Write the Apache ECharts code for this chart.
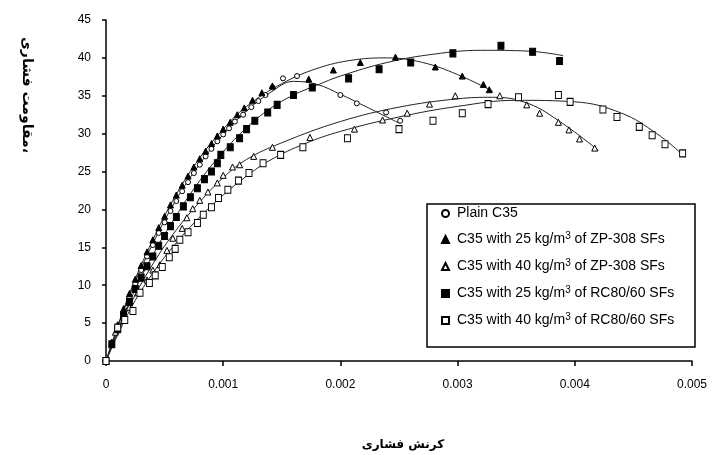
<!DOCTYPE html>
<html>
<head>
<meta charset="utf-8">
<style>
  html, body { margin: 0; padding: 0; background: #fff; }
  #chart { width: 715px; height: 455px; }
</style>
<script src="https://cdn.jsdelivr.net/npm/echarts@6/dist/echarts.min.js"></script>
</head>
<body>
<div id="chart"></div>
<script>
// axis ticks
const xTickLabels = ['0', '0.001', '0.002', '0.003', '0.004', '0.005']
const yTickLabels = ['0', '5', '10', '15', '20', '25', '30', '35', '40', '45']

const seriesNames = [
  'Plain C35',
  'C35 with 25 kg/m3 of ZP-308 SFs',
  'C35 with 40 kg/m3 of ZP-308 SFs',
  'C35 with 25 kg/m3 of RC80/60 SFs',
  'C35 with 40 kg/m3 of RC80/60 SFs'
]

// measured points [strain, stress]
const plainPoints = [
  [0, 0], [0.00005, 2.3], [0.0001, 4.5], [0.00015, 6.5], [0.0002, 8.4], [0.00025, 10.2],
  [0.0003, 12.0], [0.00035, 13.8], [0.0004, 15.3], [0.00045, 16.9], [0.0005, 18.3],
  [0.00055, 19.8], [0.0006, 21.1], [0.00065, 22.4], [0.0007, 23.6], [0.00075, 24.8],
  [0.0008, 25.9], [0.00085, 27.0], [0.0009, 28.0], [0.00095, 29.0], [0.001, 29.9],
  [0.00105, 30.7], [0.0011, 31.6], [0.00117, 32.5], [0.00124, 33.5], [0.0013, 34.3],
  [0.00136, 35.1], [0.00142, 36.1], [0.00151, 37.3], [0.00163, 37.6],
  [0.002, 35.1], [0.00214, 34.0], [0.00239, 32.8], [0.00251, 31.7]
]
const zp25Points = [
  [0, 0], [0.00005, 2.5], [0.0001, 4.8], [0.00015, 6.9], [0.0002, 8.9], [0.00025, 10.8],
  [0.0003, 12.6], [0.00035, 14.4], [0.0004, 16.0], [0.00045, 17.6], [0.0005, 19.1],
  [0.00055, 20.6], [0.0006, 21.9], [0.00065, 23.2], [0.0007, 24.4], [0.00075, 25.6],
  [0.0008, 26.7], [0.00085, 27.7], [0.0009, 28.7], [0.00095, 29.7], [0.001, 30.6],
  [0.00106, 31.5], [0.00112, 32.5], [0.00118, 33.4], [0.00125, 34.4], [0.00133, 35.4],
  [0.00142, 36.3], [0.00173, 37.2], [0.00194, 38.4], [0.00217, 39.4], [0.00247, 40.1],
  [0.00281, 38.8], [0.00304, 37.6], [0.00322, 36.5], [0.00327, 35.8]
]
const zp40Points = [
  [0, 0], [0.00008, 3.8], [0.00015, 5.8], [0.0002, 7.1], [0.00027, 9.0], [0.00035, 10.7],
  [0.0004, 12.0], [0.00046, 12.7], [0.00052, 14.6], [0.00057, 16.2], [0.00065, 17.5],
  [0.00069, 18.9], [0.00074, 20.1], [0.0008, 21.2], [0.00087, 22.3], [0.00095, 23.5],
  [0.001, 24.5], [0.00108, 25.6], [0.00114, 25.9], [0.00126, 27.0], [0.00142, 28.2],
  [0.00174, 29.5], [0.00212, 30.6], [0.00236, 31.8], [0.00257, 32.7], [0.00276, 33.9],
  [0.00298, 35.0], [0.00336, 35.0], [0.00359, 33.8], [0.0037, 32.7], [0.00386, 31.5],
  [0.00395, 30.5], [0.00404, 29.3], [0.00417, 28.1]
]
const rc25Points = [
  [0, 0], [0.00005, 2.2], [0.0001, 4.2], [0.00015, 6.0], [0.0002, 7.8], [0.00025, 9.5],
  [0.0003, 11.0], [0.00035, 12.5], [0.0004, 13.8], [0.00045, 15.2], [0.0005, 16.5],
  [0.00055, 17.8], [0.0006, 19.0], [0.00066, 20.4], [0.00072, 21.6], [0.00078, 22.8],
  [0.00084, 24.0], [0.0009, 25.0], [0.00095, 26.1], [0.00098, 27.2], [0.00106, 28.2],
  [0.00114, 29.4], [0.0012, 30.6], [0.00127, 31.7], [0.00138, 32.8], [0.00146, 33.8],
  [0.0016, 35.1], [0.00176, 36.1], [0.00207, 37.3], [0.00233, 38.5], [0.0026, 39.4],
  [0.00296, 40.6], [0.00337, 41.6], [0.00364, 40.8], [0.00387, 39.6]
]
const rc40Points = [
  [0, 0], [0.0001, 4.4], [0.00016, 5.4], [0.00023, 6.6], [0.00029, 9.0], [0.00037, 10.3],
  [0.00042, 11.3], [0.00048, 12.4], [0.00054, 13.7], [0.00059, 14.8], [0.00063, 16.0],
  [0.0007, 17.0], [0.00078, 18.2], [0.00083, 19.3], [0.0009, 20.3], [0.00096, 21.5],
  [0.00104, 22.6], [0.00113, 23.8], [0.00122, 24.8], [0.00134, 26.1], [0.00149, 27.2],
  [0.00168, 28.2], [0.00206, 29.4], [0.0025, 30.6], [0.00279, 31.7], [0.00304, 32.7],
  [0.00326, 33.9], [0.00352, 34.8], [0.00386, 35.1], [0.00396, 34.2], [0.00424, 33.2],
  [0.00436, 32.2], [0.00455, 30.9], [0.00466, 29.8], [0.00477, 28.6], [0.00492, 27.4]
]

// fitted curves
const plainCurve = [
  [0, 0], [0.0002, 8.6], [0.0004, 15.5], [0.0006, 21.3], [0.0008, 26.0], [0.001, 29.9],
  [0.0012, 33.0], [0.0014, 35.4], [0.0016, 36.9], [0.0018, 36.5], [0.002, 35.2],
  [0.0022, 33.7], [0.0025, 31.4]
]
const zp25Curve = [
  [0, 0], [0.0002, 8.9], [0.0004, 16.0], [0.0006, 22.0], [0.0008, 26.8], [0.001, 30.6],
  [0.0012, 33.6], [0.0015, 36.6], [0.0018, 38.6], [0.0021, 39.7], [0.0024, 40.0],
  [0.0027, 39.4], [0.003, 37.8], [0.0033, 35.6]
]
const zp40Curve = [
  [0, 0], [0.0002, 7.2], [0.0004, 12.8], [0.0006, 17.3], [0.0008, 21.0], [0.001, 24.2],
  [0.0012, 26.6], [0.0015, 28.8], [0.002, 31.6], [0.0025, 33.5], [0.003, 34.6],
  [0.0033, 34.8], [0.0036, 34.0], [0.0039, 31.3], [0.0042, 27.8]
]
const rc25Curve = [
  [0, 0], [0.0002, 7.8], [0.0004, 14.0], [0.0006, 19.2], [0.0008, 23.8], [0.001, 27.6],
  [0.0012, 30.8], [0.0014, 33.3], [0.0016, 35.1], [0.0018, 36.4], [0.002, 37.6],
  [0.0024, 39.4], [0.0028, 40.5], [0.0032, 41.0], [0.0036, 40.9], [0.0039, 40.3]
]
const rc40Curve = [
  [0, 0], [0.0002, 6.6], [0.0004, 11.6], [0.0006, 15.6], [0.0008, 19.0], [0.001, 21.9],
  [0.0012, 24.4], [0.0014, 26.5], [0.0017, 28.7], [0.002, 30.3], [0.0025, 32.2],
  [0.003, 33.6], [0.0035, 34.4], [0.004, 34.2], [0.0044, 32.7], [0.0047, 30.0],
  [0.0049, 27.5]
]

const pointSets = [plainPoints, zp25Points, zp40Points, rc25Points, rc40Points]
const curveSets = [plainCurve, zp25Curve, zp40Curve, rc25Curve, rc40Curve]
const markers = [
  { symbol: 'circle', size: 5, fill: '#fff' },
  { symbol: 'triangle', size: 6, fill: '#000' },
  { symbol: 'triangle', size: 6, fill: '#fff' },
  { symbol: 'rect', size: [6, 7], fill: '#000' },
  { symbol: 'rect', size: [6, 7], fill: '#fff' }
]

const chart = echarts.init(document.getElementById('chart'), null, { renderer: 'canvas' })

const fitSeries = curveSets.map((data, i) => ({
  name: 'fit' + i,
  type: 'line',
  data: data,
  smooth: 0.4,
  showSymbol: false,
  silent: true,
  z: 1,
  lineStyle: { color: '#222', width: 1 }
}))

const pointSeries = pointSets.map((data, i) => ({
  name: seriesNames[i],
  type: 'scatter',
  data: data,
  symbol: markers[i].symbol,
  symbolSize: markers[i].size,
  z: 3,
  itemStyle: {
    color: markers[i].fill,
    borderColor: '#000',
    borderWidth: 1,
    opacity: 1
  }
}))

chart.setOption({
  backgroundColor: '#fff',
  animation: false,
  textStyle: { fontFamily: 'Liberation Sans, Arial, sans-serif' },
  grid: { left: 106, right: 23, top: 20, bottom: 94 },
  xAxis: {
    type: 'value',
    min: 0,
    max: 0.005,
    interval: 0.001,
    axisLine: { onZero: false, lineStyle: { color: '#000', width: 1.5 } },
    axisTick: { show: true, length: 5, lineStyle: { color: '#000', width: 1.5 } },
    splitLine: { show: false },
    axisLabel: {
      margin: 18,
      color: '#000',
      fontSize: 12,
      formatter: (v, idx) => xTickLabels[idx]
    }
  },
  yAxis: {
    type: 'value',
    min: 0,
    max: 45,
    interval: 5,
    axisLine: { show: true, lineStyle: { color: '#000', width: 1.5 } },
    axisTick: { show: true, length: 4, lineStyle: { color: '#000', width: 1.5 } },
    splitLine: { show: false },
    axisLabel: {
      margin: 15,
      color: '#000',
      fontSize: 12,
      formatter: (v, idx) => yTickLabels[idx]
    }
  },
  legend: {
    data: seriesNames,
    orient: 'vertical',
    left: 441,
    top: 206,
    padding: 0,
    itemGap: 10,
    itemWidth: 7,
    itemHeight: 7,
    selectedMode: false,
    formatter: name => name.replace('kg/m3', 'kg/m{sup|3}'),
    textStyle: {
      color: '#000',
      fontSize: 14,
      lineHeight: 15,
      padding: [0, 0, 0, 3],
      rich: {
        sup: { fontSize: 10, lineHeight: 15, padding: [0, 0, 7, 0] }
      }
    }
  },
  graphic: [
    {
      type: 'rect',
      shape: { x: 427, y: 204, width: 268, height: 143 },
      style: { fill: null, stroke: '#000', lineWidth: 1.5 },
      z: 0
    },
    {
      type: 'text',
      x: 27,
      y: 95,
      rotation: -Math.PI / 2,
      style: {
        text: 'مقاومت فشاری،',
        font: 'bold 14px "DejaVu Sans"',
        fill: '#000',
        textAlign: 'center',
        textVerticalAlign: 'middle'
      }
    },
    {
      type: 'text',
      x: 403,
      y: 445,
      style: {
        text: 'کرنش فشاری',
        font: 'bold 12px "DejaVu Sans"',
        fill: '#000',
        textAlign: 'center',
        textVerticalAlign: 'middle'
      }
    }
  ],
  series: [...fitSeries, ...pointSeries]
})
</script>
</body>
</html>
